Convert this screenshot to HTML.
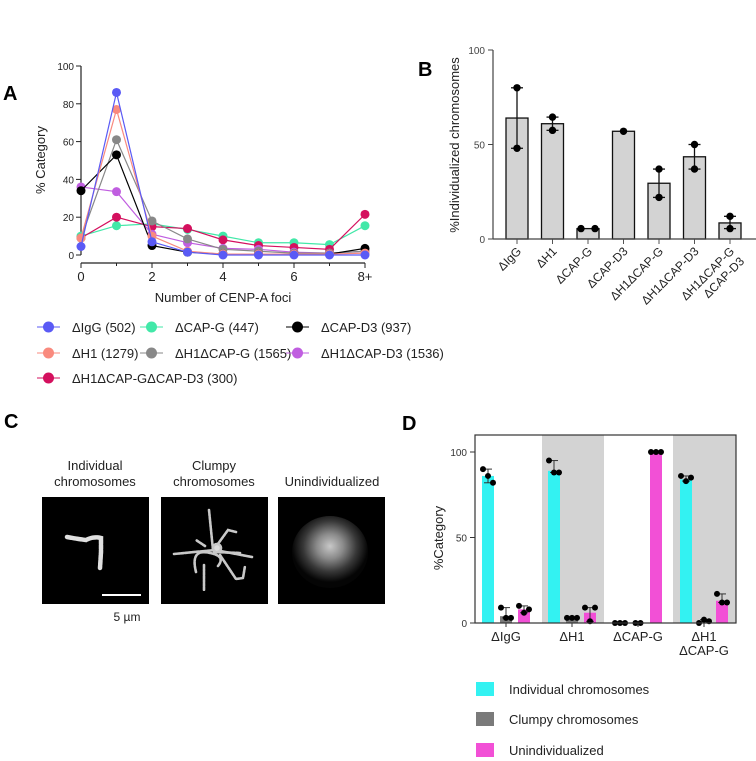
<!DOCTYPE html>
<html><head><meta charset="utf-8"><style>
body{margin:0;background:#fff;}
svg{display:block;font-family:"Liberation Sans",Arial,sans-serif;}
</style></head><body>
<svg id="fig" width="756" height="761" viewBox="0 0 756 761">
<defs>
<radialGradient id="blob" cx="50%" cy="42%" r="50%"><stop offset="0" stop-color="#c8c8c8"/><stop offset="0.35" stop-color="#8a8a8a"/><stop offset="0.7" stop-color="#383838"/><stop offset="1" stop-color="#050505"/></radialGradient>
</defs>
<text x="3" y="100" font-size="20" font-weight="bold">A</text>
<text x="418" y="76" font-size="20" font-weight="bold">B</text>
<text x="4" y="428" font-size="20" font-weight="bold">C</text>
<text x="402" y="430" font-size="20" font-weight="bold">D</text>
<g id="gA"></g>
<g id="gB"></g>
<g id="gC">
 <text x="95" y="470" font-size="13" text-anchor="middle" fill="#222">Individual</text>
 <text x="95" y="486" font-size="13" text-anchor="middle" fill="#222">chromosomes</text>
 <text x="214" y="470" font-size="13" text-anchor="middle" fill="#222">Clumpy</text>
 <text x="214" y="486" font-size="13" text-anchor="middle" fill="#222">chromosomes</text>
 <text x="332" y="486" font-size="13" text-anchor="middle" fill="#222">Unindividualized</text>
 <rect x="42" y="497" width="107" height="107" fill="#000"/>
 <path d="M67 537 Q78 539 86 540 Q94 536 101 538 L101 552 L100 568" stroke="#e0e0e0" stroke-width="4.5" fill="none" stroke-linecap="round" stroke-dasharray="4 1.2"/>
 <line x1="102" y1="595" x2="141" y2="595" stroke="#fff" stroke-width="2"/>
 <text x="127" y="621" font-size="12" text-anchor="middle" fill="#222">5 µm</text>
 <rect x="161" y="497" width="107" height="107" fill="#000"/>
 <g stroke="#c8c8c8" stroke-width="2.6" fill="none" stroke-dasharray="2.5 1.2" stroke-linecap="round">
  <path d="M209 510 L213 550"/><path d="M174 554 L215 550 L252 557"/><path d="M196 572 Q190 548 210 553 Q226 556 218 566"/><path d="M220 555 L236 579 L243 578 L245 566"/><path d="M204 565 L204 590"/><path d="M215 548 L228 530 L236 532"/><path d="M205 546 L196 540"/><path d="M214 552 L240 553"/><circle cx="217" cy="548" r="4" fill="#ddd"/>
 </g>
 <rect x="278" y="497" width="107" height="107" fill="#000"/>
 <ellipse cx="330" cy="552" rx="38" ry="36" fill="url(#blob)"/>
</g>
<g id="gD"></g>
</svg>
<script>
// ---------- Panel A data ----------
const aCats = ["0","1","2","3","4","5","6","7","8+"];
const aTickLabels = ["0","2","4","6","8+"];
const aYTicks = [0,20,40,60,80,100];
const aNames = ["ΔIgG (502)","ΔH1 (1279)","ΔH1ΔCAP-GΔCAP-D3 (300)","ΔCAP-G (447)","ΔH1ΔCAP-G (1565)","ΔCAP-D3 (937)","ΔH1ΔCAP-D3 (1536)"];
const aIgG = [4.5,86,7,1.5,0,0,0,0,0];
const aH1 = [9,77,10,2,0.5,0.5,0.5,0.5,1];
const aH1GD3 = [9,20,15,14,8,5,4,3,21.5];
const aCAPG = [10,15.5,16.5,13.5,10,6.5,6.5,5.5,15.5];
const aH1G = [9,61,18,8.5,3,2,1,1,2];
const aCAPD3 = [34,53,5,1.5,0.5,0.5,0.5,0.5,3.5];
const aH1D3 = [36,33.5,11,6.5,3.5,3,1.5,1,2];
// ---------- Panel B data ----------
const bCats = ["ΔIgG","ΔH1","ΔCAP-G","ΔCAP-D3","ΔH1ΔCAP-G","ΔH1ΔCAP-D3","ΔH1ΔCAP-G|ΔCAP-D3"];
const bMeans = [64,61,5.5,57,29.5,43.5,8.5];
const bPoints = [[80,48],[64.5,57.5],[5.5,5.5],[57],[37,22],[50,37],[12,5.5]];
const bYTicks = [0,50,100];
// ---------- Panel D data ----------
const dGroups = ["ΔIgG","ΔH1","ΔCAP-G","ΔH1|ΔCAP-G"];
const dSeriesNames = ["Individual chromosomes","Clumpy chromosomes","Unindividualized"];
const dIndividual = [86,89,0,84];
const dClumpy = [4,3,0,1];
const dUnind = [8,6,100,13];
const dIndPts = [[90,86,82],[95,88,88],[0,0,0],[86,83,85]];
const dClumpPts = [[9,3,3],[3,3,3],[0,0],[0,2,1]];
const dUnindPts = [[10,6,8],[9,1,9],[100,100,100],[17,12,12]];
const dYTicks = [0,50,100];

const NS="http://www.w3.org/2000/svg";
function mk(parent,tag,attrs,text){const e=document.createElementNS(NS,tag);for(const k in attrs)e.setAttribute(k,attrs[k]);if(text!==undefined)e.textContent=text;parent.appendChild(e);return e;}

// ===== Panel A =====
(function(){
 const g=document.getElementById('gA');
 const x=i=>81+i*35.5, y=v=>255-v*1.89;
 let e=mk(g,'line',{x1:81,y1:y(0),x2:81,y2:y(100),stroke:'#222','stroke-width':1.2});
 
 
 e=mk(g,'line',{x1:81,y1:263,x2:365,y2:263,stroke:'#222','stroke-width':1.2});
 
 
 aYTicks.forEach(v=>{mk(g,'line',{x1:76,y1:y(v),x2:81,y2:y(v),stroke:'#222'});
  e=mk(g,'text',{x:74,y:y(v)+4,'font-size':10,'text-anchor':'end',fill:'#222'},String(v));
  
  });
 aCats.forEach((c,i)=>{mk(g,'line',{x1:x(i),y1:263,x2:x(i),y2:i%2?266:268,stroke:'#222'});});
 aTickLabels.forEach((t,k)=>{e=mk(g,'text',{x:x(k*2),y:281,'font-size':13,'text-anchor':'middle',fill:'#222'},t);
  
  });
 e=mk(g,'text',{x:223,y:302,'font-size':13,'text-anchor':'middle',fill:'#222'},'Number of CENP-A foci');
 
 
 e=mk(g,'text',{x:0,y:0,'font-size':13,'text-anchor':'middle',fill:'#222',transform:'translate(45,160) rotate(-90)'},'% Category');
 
 
 const series=[[aCAPG,'#42e8a8'],[aH1GD3,'#d4105e'],[aH1D3,'#c05ee0'],[aH1G,'#888888'],[aCAPD3,'#000000'],[aH1,'#f98a7e'],[aIgG,'#5a5af5']];
 series.forEach(([d,c])=>{
  e=mk(g,'polyline',{points:d.map((v,i)=>x(i)+','+y(v)).join(' '),fill:'none',stroke:c,'stroke-width':1.2});
  
  
  d.forEach((v,i)=>{e=mk(g,'circle',{cx:x(i),cy:y(v),r:4.5,fill:c});
   
   });
 });
 const leg=[[aNames[0],'#5a5af5',0,0],[aNames[1],'#f98a7e',0,1],[aNames[2],'#d4105e',0,2],[aNames[3],'#42e8a8',1,0],[aNames[4],'#888888',1,1],[aNames[5],'#000000',2,0],[aNames[6],'#c05ee0',2,1]];
 const cx=[37,140,286], ry=[327,353,378];
 leg.forEach(([n,c,col,row])=>{
  const lg=mk(g,'g',{});
  
  
  mk(lg,'line',{x1:cx[col],y1:ry[row],x2:cx[col]+23,y2:ry[row],stroke:c,'stroke-width':1.2,opacity:0.8});
  mk(lg,'circle',{cx:cx[col]+11.5,cy:ry[row],r:5.5,fill:c});
  mk(lg,'text',{x:cx[col]+35,y:ry[row]+5,'font-size':13,fill:'#222'},n);
 });
})();

// ===== Panel B =====
(function(){
 const g=document.getElementById('gB');
 const x=i=>517+i*35.5, y=v=>239-v*1.89;
 let e;
 bCats.forEach((c,i)=>{
  const h=bMeans[i];
  e=mk(g,'rect',{x:x(i)-11,y:y(h),width:22,height:y(0)-y(h),fill:'#d3d3d3',stroke:'#111','stroke-width':1.3});
  
  
  const pts=bPoints[i];const mx=Math.max(...pts),mn=Math.min(...pts);
  if(pts.length>1&&mx>mn){mk(g,'line',{x1:x(i),y1:y(mx),x2:x(i),y2:y(mn),stroke:'#111','stroke-width':1.3});
   mk(g,'line',{x1:x(i)-6,y1:y(mx),x2:x(i)+6,y2:y(mx),stroke:'#111','stroke-width':1.3});
   mk(g,'line',{x1:x(i)-6,y1:y(mn),x2:x(i)+6,y2:y(mn),stroke:'#111','stroke-width':1.3});}
  pts.forEach((v,k)=>{const off=(pts.length>1&&mx===mn)?(k?7:-7):0;
   e=mk(g,'circle',{cx:x(i)+off,cy:y(v),r:3.7,fill:'#000'});
   
   });
  mk(g,'line',{x1:x(i),y1:239,x2:x(i),y2:244,stroke:'#555'});
  const parts=c.split('|');
  parts.forEach((p,k)=>{e=mk(g,'text',{x:0,y:0,'font-size':12,'text-anchor':'end',fill:'#222',transform:'translate('+(x(i)+5+k*10)+','+(252+k*10)+') rotate(-45)'},p);
   
   });
 });
 e=mk(g,'line',{x1:493,y1:y(0),x2:493,y2:y(100),stroke:'#444','stroke-width':1.2});
 
 
 e=mk(g,'line',{x1:493,y1:239,x2:756,y2:239,stroke:'#444','stroke-width':1.2});
 
 
 bYTicks.forEach(v=>{mk(g,'line',{x1:488,y1:y(v),x2:493,y2:y(v),stroke:'#444'});
  e=mk(g,'text',{x:485,y:y(v)+4,'font-size':10,'text-anchor':'end',fill:'#444'},String(v));
  
  });
 e=mk(g,'text',{x:0,y:0,'font-size':13,'text-anchor':'middle',fill:'#222',transform:'translate(459,145) rotate(-90)'},'%Individualized chromosomes');
 
 
})();

// ===== Panel D =====
(function(){
 const g=document.getElementById('gD');
 const gc=i=>506+i*66, y=v=>623-v*1.71;
 let e;
 e=mk(g,'rect',{x:542,y:435,width:62,height:188,fill:'#d3d3d3'});
 
 
 e=mk(g,'rect',{x:673,y:435,width:63,height:188,fill:'#d3d3d3'});
 
 
 const ser=[[dIndividual,dIndPts,'#33f2f2',-18],[dClumpy,dClumpPts,'#7a7a7a',0],[dUnind,dUnindPts,'#f250d6',18]];
 dGroups.forEach((gr,i)=>{
  ser.forEach(([vals,pts,c,off])=>{
   const cx=gc(i)+off, v=vals[i];
   e=mk(g,'rect',{x:cx-6,y:y(v),width:12,height:y(0)-y(v),fill:c});
   
   
   const p=pts[i];const mx=Math.max(...p),mn=Math.min(...p);
   if(mx>mn){mk(g,'line',{x1:cx,y1:y(mx),x2:cx,y2:y(mn),stroke:'#333','stroke-width':1});
    mk(g,'line',{x1:cx-4,y1:y(mx),x2:cx+4,y2:y(mx),stroke:'#333'});
    mk(g,'line',{x1:cx-4,y1:y(mn),x2:cx+4,y2:y(mn),stroke:'#333'});}
   p.forEach((pv,k)=>{const dx=(k-(p.length-1)/2)*5;
    e=mk(g,'circle',{cx:cx+dx,cy:y(pv),r:3,fill:'#000'});
    
    });
  });
  const parts=gr.split('|');
  parts.forEach((p,k)=>{e=mk(g,'text',{x:gc(i),y:641+k*14,'font-size':13,'text-anchor':'middle',fill:'#222'},p);
   
   });
  mk(g,'line',{x1:gc(i),y1:623,x2:gc(i),y2:627,stroke:'#333'});
 });
 e=mk(g,'rect',{x:475,y:435,width:261,height:188,fill:'none',stroke:'#333','stroke-width':1.2});
 
 
 dYTicks.forEach(v=>{mk(g,'line',{x1:470,y1:y(v),x2:475,y2:y(v),stroke:'#333'});
  e=mk(g,'text',{x:467,y:y(v)+4,'font-size':10,'text-anchor':'end',fill:'#333'},String(v));
  
  });
 e=mk(g,'text',{x:0,y:0,'font-size':13,'text-anchor':'middle',fill:'#222',transform:'translate(443,538) rotate(-90)'},'%Category');
 
 
 const lc=['#33f2f2','#7a7a7a','#f250d6'], ly=[689,719,750];
 dSeriesNames.forEach((n,k)=>{
  const lg=mk(g,'g',{});
  
  
  mk(lg,'rect',{x:476,y:ly[k]-7,width:18,height:14,fill:lc[k]});
  mk(lg,'text',{x:509,y:ly[k]+5,'font-size':13,fill:'#222'},n);
 });
})();
</script>
</body></html>
